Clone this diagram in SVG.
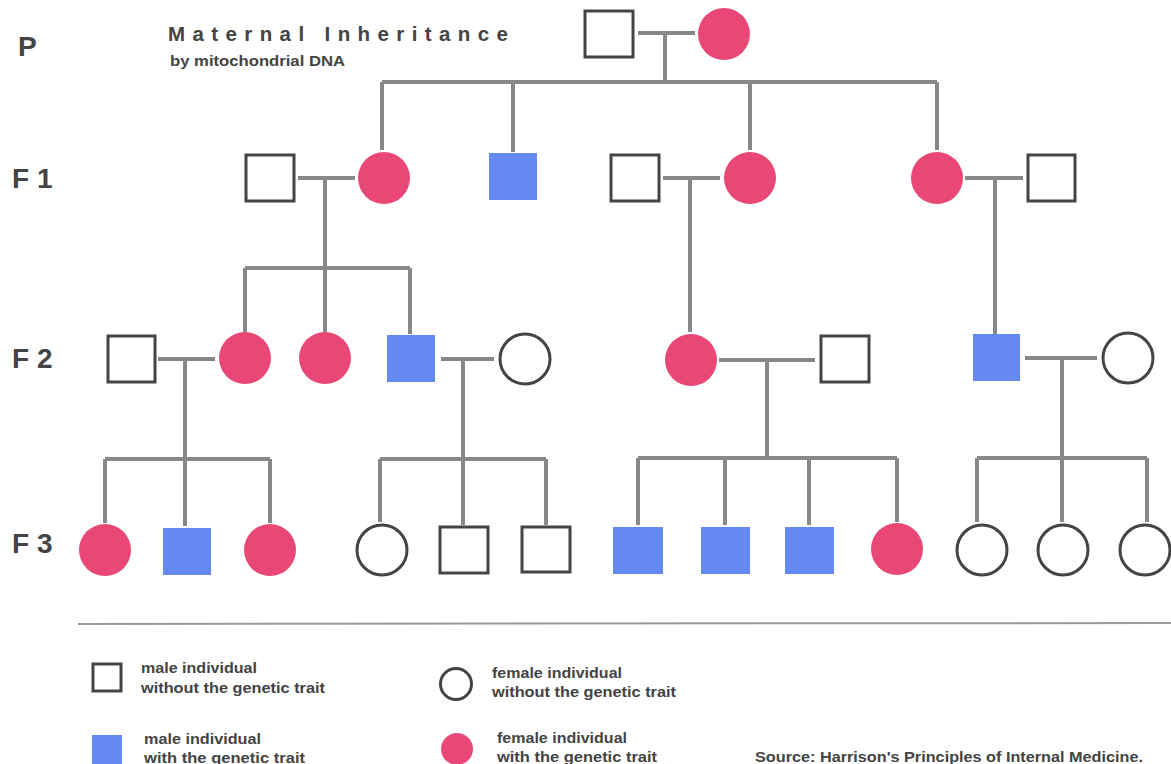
<svg xmlns="http://www.w3.org/2000/svg" width="1171" height="764" viewBox="0 0 1171 764">
<style>
.t{font-family:"Liberation Sans",Arial,sans-serif;font-weight:bold;fill:#444}
.gen{font-size:28px}
.leg{font-size:15.5px}
.ln{stroke:#888;stroke-width:4;fill:none}
.m{fill:#fff;stroke:#444;stroke-width:3}
.f{fill:#fff;stroke:#444;stroke-width:3}
.ma{fill:#6489F0}
.fa{fill:#E94877}
</style>
<rect width="1171" height="764" fill="#fff"/>
<g id="labels">
<text class="t" x="168" y="41" font-size="20.5" letter-spacing="7.4">Maternal Inheritance</text>
<text class="t" x="170" y="66" font-size="15" textLength="175" lengthAdjust="spacingAndGlyphs">by mitochondrial DNA</text>
<text class="t gen" x="18" y="56">P</text>
<text class="t gen" x="12" y="188">F 1</text>
<text class="t gen" x="12" y="368">F 2</text>
<text class="t gen" x="12" y="553">F 3</text>
</g>
<g id="connectors">
<path class="ln" d="M638 33H695M665 33V82M382 82H937M382 82V150M513 82V152M750 82V150M937 82V150"/>
<path class="ln" d="M298 178H355M325 178V268M245 268H410M245 268V332M325 268V332M410 268V334"/>
<path class="ln" d="M663 178H720M690 178V332"/>
<path class="ln" d="M965 178H1023M995 178V334"/>
<path class="ln" d="M158 359H215M185 359V459M105 459H270M105 459V523M185 459V526M270 459V523"/>
<path class="ln" d="M441 359H494M463 359V459M380 459H546M380 459V522M463 459V525M546 459V525"/>
<path class="ln" d="M719 360H815M767 360V458M638 458H897M638 458V525M725 458V525M809 458V525M897 458V522"/>
<path class="ln" d="M1025 358H1097M1062 358V458M977 458H1147M977 458V522M1062 458V522M1147 458V522"/>
</g>
<g id="p-father"><rect class="m" x="585" y="11" width="48" height="46"/></g>
<g id="p-mother"><circle class="fa" cx="724" cy="34" r="26"/></g>
<g id="f1-husband1"><rect class="m" x="246" y="155" width="48" height="46"/></g>
<g id="f1-daughter1"><circle class="fa" cx="384" cy="178" r="26"/></g>
<g id="f1-son"><rect class="ma" x="489" y="153" width="48" height="47"/></g>
<g id="f1-husband2"><rect class="m" x="611" y="155" width="48" height="46"/></g>
<g id="f1-daughter2"><circle class="fa" cx="750" cy="178" r="26"/></g>
<g id="f1-daughter3"><circle class="fa" cx="937" cy="178" r="26"/></g>
<g id="f1-husband3"><rect class="m" x="1028" y="155" width="47" height="46"/></g>
<g id="f2-husband1"><rect class="m" x="108" y="336" width="47" height="46"/></g>
<g id="f2-daughter1"><circle class="fa" cx="245" cy="358" r="26"/></g>
<g id="f2-daughter2"><circle class="fa" cx="325" cy="358" r="26"/></g>
<g id="f2-son1"><rect class="ma" x="387" y="335" width="48" height="47"/></g>
<g id="f2-wife1"><circle class="f" cx="525" cy="359" r="25"/></g>
<g id="f2-daughter3"><circle class="fa" cx="691" cy="360" r="26"/></g>
<g id="f2-husband2"><rect class="m" x="821" y="336" width="48" height="46"/></g>
<g id="f2-son2"><rect class="ma" x="973" y="334" width="47" height="47"/></g>
<g id="f2-wife2"><circle class="f" cx="1128" cy="358" r="25"/></g>
<g id="f3-1"><circle class="fa" cx="105" cy="550" r="26"/></g>
<g id="f3-2"><rect class="ma" x="163" y="528" width="48" height="47"/></g>
<g id="f3-3"><circle class="fa" cx="270" cy="550" r="26"/></g>
<g id="f3-4"><circle class="f" cx="382" cy="550" r="25"/></g>
<g id="f3-5"><rect class="m" x="440" y="527" width="48" height="46"/></g>
<g id="f3-6"><rect class="m" x="522" y="527" width="48" height="45"/></g>
<g id="f3-7"><rect class="ma" x="613" y="527" width="50" height="47"/></g>
<g id="f3-8"><rect class="ma" x="701" y="527" width="49" height="47"/></g>
<g id="f3-9"><rect class="ma" x="785" y="527" width="49" height="47"/></g>
<g id="f3-10"><circle class="fa" cx="897" cy="549" r="26"/></g>
<g id="f3-11"><circle class="f" cx="982" cy="550" r="25"/></g>
<g id="f3-12"><circle class="f" cx="1063" cy="550" r="25"/></g>
<g id="f3-13"><circle class="f" cx="1145" cy="550" r="25"/></g>
<line x1="78" y1="624" x2="1171" y2="623" stroke="#999" stroke-width="2"/>
<g id="legend">
<rect class="m" x="93" y="664" width="28" height="27"/>
<text class="t leg" x="141" y="673" textLength="116" lengthAdjust="spacingAndGlyphs">male individual</text>
<text class="t leg" x="141" y="693" textLength="184" lengthAdjust="spacingAndGlyphs">without the genetic trait</text>
<circle class="f" cx="456" cy="684" r="15.5" stroke-width="2.5"/>
<text class="t leg" x="492" y="678" textLength="130" lengthAdjust="spacingAndGlyphs">female individual</text>
<text class="t leg" x="492" y="697" textLength="184" lengthAdjust="spacingAndGlyphs">without the genetic trait</text>
<rect class="ma" x="92" y="735" width="30" height="29"/>
<text class="t leg" x="144" y="744" textLength="117" lengthAdjust="spacingAndGlyphs">male individual</text>
<text class="t leg" x="144" y="763" textLength="161" lengthAdjust="spacingAndGlyphs">with the genetic trait</text>
<circle class="fa" cx="457" cy="749" r="16"/>
<text class="t leg" x="497" y="743" textLength="130" lengthAdjust="spacingAndGlyphs">female individual</text>
<text class="t leg" x="497" y="762" textLength="160" lengthAdjust="spacingAndGlyphs">with the genetic trait</text>
<text class="t leg" x="755" y="762" textLength="388" lengthAdjust="spacingAndGlyphs">Source: Harrison's Principles of Internal Medicine.</text>
</g>
</svg>
